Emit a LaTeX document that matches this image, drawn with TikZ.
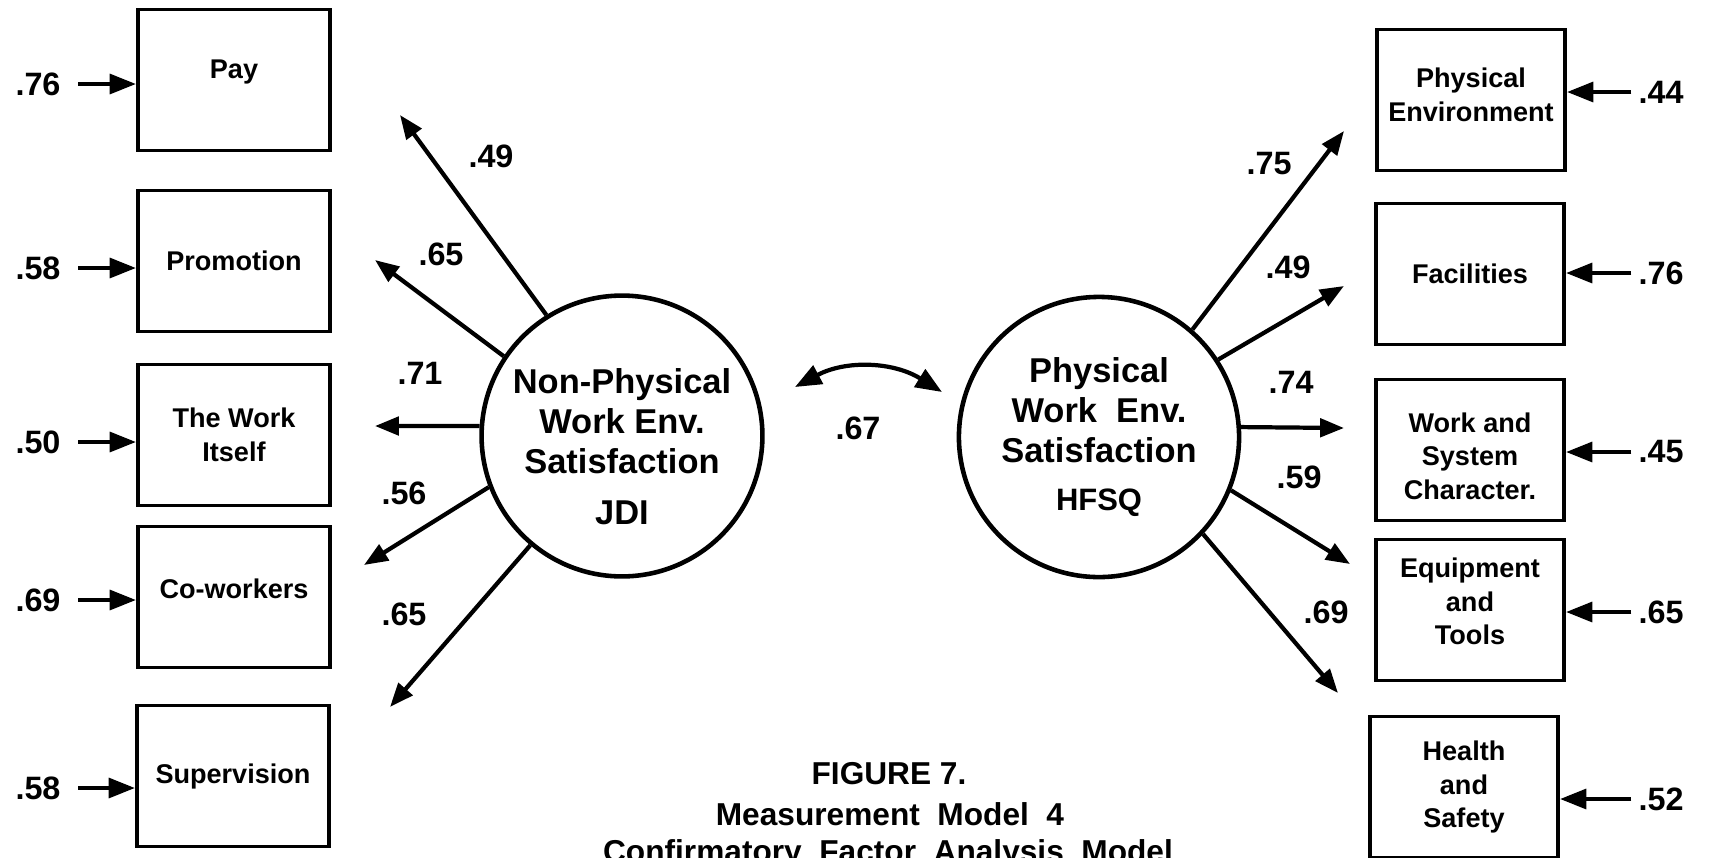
\documentclass[tikz,border=0pt]{standalone}
\usepackage{fontspec}
\setmainfont{Liberation Sans}
\usetikzlibrary{arrows.meta}
\begin{document}
\begin{tikzpicture}[x=0.01cm,y=-0.01cm,
  box/.style={draw, line width=1.1pt, minimum width=1.92cm, minimum height=1.41cm,
    align=center, inner sep=0pt, font=\fontsize{7.7}{9.5}\selectfont\bfseries},
  rbox/.style={box, minimum width=1.88cm},
  factor/.style={draw, circle, line width=1.3pt, minimum size=2.8cm, inner sep=0pt,
    align=center, font=\fontsize{9.8}{11.4}\selectfont\bfseries},
  num/.style={inner sep=0pt, font=\fontsize{9.2}{11}\selectfont\bfseries},
  captext/.style={inner sep=0pt, font=\fontsize{9}{11}\selectfont\bfseries},
  load/.style={line width=1.2pt, -{Triangle[length=6.8pt,width=5.2pt]}},
  errL/.style={line width=1.2pt, shorten <=4.8pt, -{Triangle[length=7.5pt,width=5.6pt]}},
  errR/.style={errL, shorten <=1.8pt},
  corr/.style={line width=1.2pt, {Triangle[length=7.5pt,width=5.8pt]}-{Triangle[length=7.5pt,width=5.8pt]}}
]
\useasboundingbox (0,0) rectangle (1711,857);

% observed indicators, JDI side
\node[box] (b1) at (234,80)  {Pay\rule[-6pt]{0pt}{1pt}};
\node[box] (b2) at (234,261) {Promotion};
\node[box] (b3) at (234,435) {The Work\\Itself};
\node[box] (b4) at (234,597) {Co-workers\rule[-5pt]{0pt}{1pt}};
\node[box] (b5) at (233,776) {Supervision};

% observed indicators, HFSQ side
\node[rbox] (r1) at (1471,100) {Physical\\Environment\rule[-3pt]{0pt}{1pt}};
\node[rbox] (r2) at (1470,274) {Facilities};
\node[rbox] (r3) at (1470,450) {\rule{0pt}{9pt}Work and\\System\\Character.};
\node[rbox] (r4) at (1470,610) {Equipment\\and\\Tools\rule[-5pt]{0pt}{1pt}};
\node[rbox] (r5) at (1464,787) {Health\\and\\Safety};

% latent factors
\node[factor] (L) at (622,436) {\rule{0pt}{13pt}Non-Physical\\Work Env.\\Satisfaction\\[3pt]JDI};
\node[factor] (R) at (1099,437) {Physical\\Work\ \ Env.\\Satisfaction\\[2pt]{\fontsize{8.8}{11}\selectfont HFSQ}};

% error terms
\node[num] (e1) at (38,84)  {.76};
\node[num] (e2) at (38,268) {.58};
\node[num] (e3) at (38,442) {.50};
\node[num] (e4) at (38,600) {.69};
\node[num] (e5) at (38,788) {.58};
\draw[errL] (e1) -- (e1 -| b1.west);
\draw[errL] (e2) -- (e2 -| b2.west);
\draw[errL] (e3) -- (e3 -| b3.west);
\draw[errL] (e4) -- (e4 -| b4.west);
\draw[errL] (e5) -- (e5 -| b5.west);

\node[num] (f1) at (1661,92)  {.44};
\node[num] (f2) at (1661,273) {.76};
\node[num] (f3) at (1661,452) {.45};
\node[num] (f4) at (1661,612) {.65};
\node[num] (f5) at (1661,799) {.52};
\draw[errR] (f1) -- (f1 -| r1.east);
\draw[errR] (f2) -- (f2 -| r2.east);
\draw[errR] (f3) -- (f3 -| r3.east);
\draw[errR] (f4) -- (f4 -| r4.east);
\draw[errR] (f5) -- (f5 -| r5.east);

% loadings, JDI
\coordinate (p1) at (400,115);
\coordinate (p2) at (375,260);
\coordinate (p3) at (375,426);
\coordinate (p4) at (364,565);
\coordinate (p5) at (390,707);
\draw[load] (L.122) -- (p1);
\draw[load] (L.146) -- (p2);
\draw[load] (L.176) -- (p3);
\draw[load] (L.201) -- (p4);
\draw[load] (L.230) -- (p5);
\node[num] (l1) at (491,156) {.49};
\node[num] (l2) at (441,254) {.65};
\node[num] (l3) at (420,373) {.71};
\node[num] (l4) at (404,493) {.56};
\node[num] (l5) at (404,614) {.65};

% loadings, HFSQ
\coordinate (s1) at (1344,131);
\coordinate (s2) at (1344,286);
\coordinate (s3) at (1344,428);
\coordinate (s4) at (1350,564);
\coordinate (s5) at (1338,693);
\draw[load] (R.49)  -- (s1);
\draw[load] (R.33)  -- (s2);
\draw[load] (R.4)   -- (s3);
\draw[load] (R.338) -- (s4);
\draw[load] (R.317) -- (s5);
\node[num] (m1) at (1269,164) {.75};
\node[num] (m2) at (1288,267) {.49};
\node[num] (m3) at (1291,382) {.74};
\node[num] (m4) at (1299,477) {.59};
\node[num] (m5) at (1326,612) {.69};

% factor correlation
\coordinate (q1) at (795,387);
\coordinate (q2) at (942,392);
\draw[corr] (q1) to[bend left=30] (q2);
\node[num] (k) at (858,428) {.67};

% caption
\node[captext] (c1) at (889,774) {FIGURE 7.};
\node[captext] (c2) at (890,814) {Measurement\ \ Model\ \ 4};
\node[captext] (c3) at (888,854) {Confirmatory\ \ Factor\ \ Analysis\ \ Model};
\end{tikzpicture}
\end{document}
